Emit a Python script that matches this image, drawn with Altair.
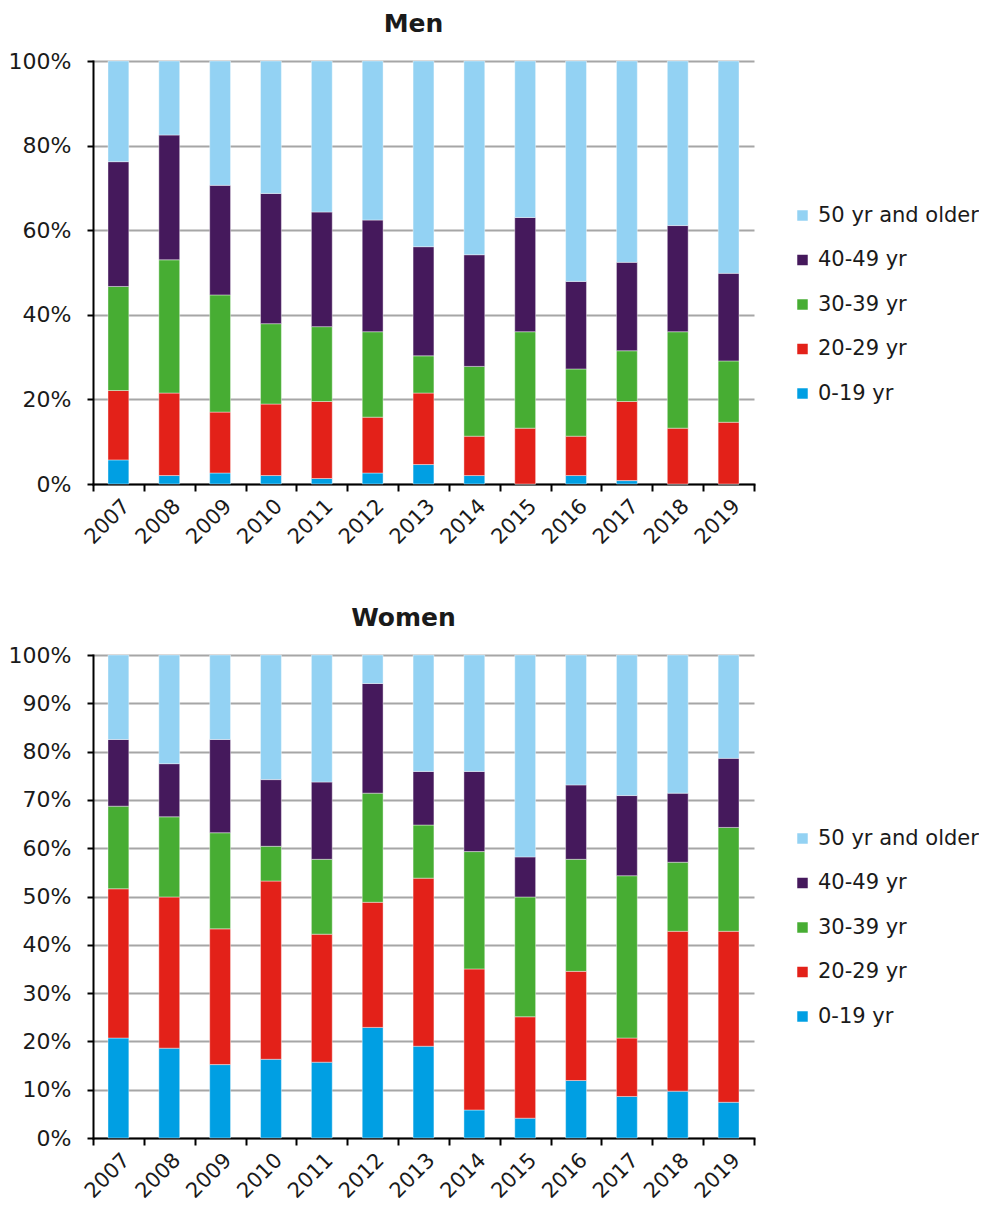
import altair as alt
import pandas as pd

years = [str(y) for y in range(2007, 2020)]
groups = ["0-19 yr", "20-29 yr", "30-39 yr", "40-49 yr", "50 yr and older"]
legend_order = ["50 yr and older", "40-49 yr", "30-39 yr", "20-29 yr", "0-19 yr"]
colors = ["#93d2f3", "#45195c", "#47ad33", "#e32119", "#009fe3"]

# shares (%) per age group, per year 2007..2019
men_0_19 = [5.7, 2.0, 2.6, 2.0, 1.3, 2.6, 4.6, 2.0, 0.0, 2.0, 0.8, 0.0, 0.0]
men_20_29 = [16.4, 19.5, 14.4, 16.9, 18.2, 13.2, 16.9, 9.3, 13.2, 9.3, 18.7, 13.2, 14.6]
men_30_39 = [24.6, 31.5, 27.7, 19.0, 17.7, 20.2, 8.8, 16.5, 22.8, 15.9, 12.0, 22.8, 14.5]
men_40_49 = [29.5, 29.5, 25.9, 30.8, 27.1, 26.4, 25.8, 26.4, 27.0, 20.7, 20.9, 25.1, 20.7]
men_50_up = [23.8, 17.5, 29.4, 31.3, 35.7, 37.6, 43.9, 45.8, 37.0, 52.1, 47.6, 38.9, 50.2]

women_0_19 = [20.7, 18.6, 15.2, 16.3, 15.7, 22.9, 19.0, 5.8, 4.1, 11.9, 8.6, 9.7, 7.4]
women_20_29 = [30.9, 31.3, 28.1, 36.9, 26.5, 25.9, 34.8, 29.2, 21.0, 22.6, 12.1, 33.1, 35.4]
women_30_39 = [17.1, 16.6, 19.9, 7.2, 15.5, 22.6, 11.0, 24.3, 24.8, 23.2, 33.6, 14.3, 21.5]
women_40_49 = [13.8, 11.0, 19.3, 13.8, 16.0, 22.7, 11.1, 16.6, 8.3, 15.4, 16.6, 14.3, 14.3]
women_50_up = [17.5, 22.5, 17.5, 25.8, 26.3, 5.9, 24.1, 24.1, 41.8, 26.9, 29.1, 28.6, 21.4]

FONT = "DejaVu Sans"


def make_df(series):
    rows = []
    for gi, (g, vals) in enumerate(zip(groups, series)):
        for y, v in zip(years, vals):
            rows.append({"year": y, "group": g, "idx": gi, "value": v})
    return pd.DataFrame(rows)


def panel(df, title, h, ticks, legend_y, title_dx):
    return alt.Chart(df, title=alt.Title(title, fontSize=25, fontWeight="bold", font=FONT,
                                         color="#1a1a1a", offset=13, dx=title_dx)).mark_bar(
        width={"band": 0.41}, stroke="#ffffff", strokeWidth=0.4
    ).encode(
        x=alt.X("year:N", title=None, sort=years,
                scale=alt.Scale(paddingInner=0, paddingOuter=0),
                axis=alt.Axis(labelAngle=-45, tickBand="extent", tickSize=7, tickWidth=2,
                              tickColor="#000000", domainColor="#000000", domainWidth=2,
                              labelFontSize=21, labelFont=FONT, labelColor="#1a1a1a",
                              labelPadding=4, grid=False)),
        y=alt.Y("value:Q", stack="normalize", title=None,
                scale=alt.Scale(domain=[0, 1], nice=False),
                axis=alt.Axis(format=".0%", values=ticks, tickSize=6, tickWidth=2,
                              tickColor="#000000", domainColor="#000000", domainWidth=2,
                              labelFontSize=22, labelFont=FONT, labelColor="#1a1a1a",
                              labelPadding=16, grid=True, gridColor="#a6a6a6",
                              gridWidth=2)),
        color=alt.Color("group:N", scale=alt.Scale(domain=legend_order, range=colors),
                        legend=alt.Legend(title=None, orient="none", legendX=699,
                                          legendY=legend_y, symbolType="square",
                                          symbolSize=110, symbolStrokeWidth=0,
                                          labelFontSize=21, labelFont=FONT,
                                          labelColor="#1a1a1a", rowPadding=22.5,
                                          labelOffset=5, labelLimit=300)),
        order=alt.Order("idx:Q", sort="ascending"),
    ).properties(width=661, height=h)


men = panel(make_df([men_0_19, men_20_29, men_30_39, men_40_49, men_50_up]),
            "Men", 423, [0, 0.2, 0.4, 0.6, 0.8, 1.0], 144, -10)
women = panel(make_df([women_0_19, women_20_29, women_30_39, women_40_49, women_50_up]),
              "Women", 483, [i / 10 for i in range(11)], 173, -20)

chart = alt.vconcat(men, women, spacing=58).resolve_legend(color="independent").properties(
    padding={"left": 0, "top": 4, "right": 0, "bottom": 0}
).configure_view(stroke=None).configure_axis(domainCap="square")

chart.save("out.html", embed_options={"renderer": "svg", "actions": False})
